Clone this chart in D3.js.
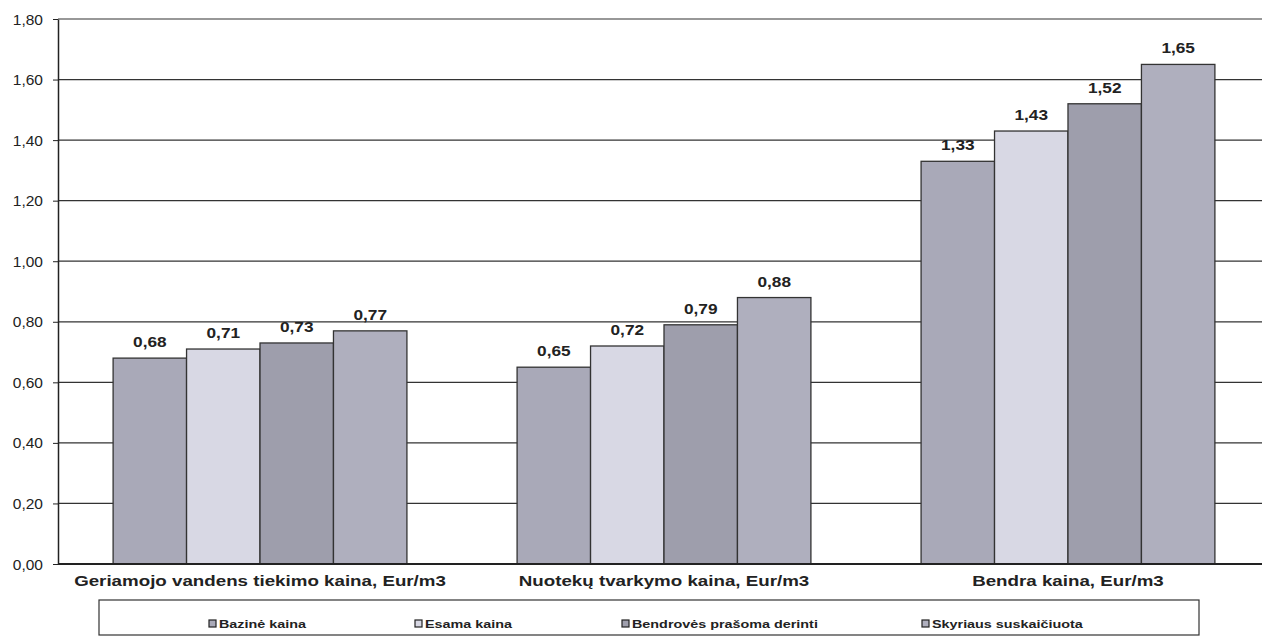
<!DOCTYPE html>
<html><head><meta charset="utf-8">
<script src="https://cdn.jsdelivr.net/npm/d3@7"></script>
<style>body{margin:0;background:#fff}svg{display:block}text{font-family:"Liberation Sans",Arial,sans-serif}</style>
</head><body>
<svg id="c" width="1263" height="637"></svg>
<script>
const categories = ["Geriamojo vandens tiekimo kaina, Eur/m3", "Nuotekų tvarkymo kaina, Eur/m3", "Bendra kaina, Eur/m3"];
const seriesNames = ["Bazinė kaina", "Esama kaina", "Bendrovės prašoma derinti", "Skyriaus suskaičiuota"];
const bazine = [0.68, 0.65, 1.33];
const esama = [0.71, 0.72, 1.43];
const prasoma = [0.73, 0.79, 1.52];
const skyriaus = [0.77, 0.88, 1.65];
const yTicks = [0, 0.2, 0.4, 0.6, 0.8, 1.0, 1.2, 1.4, 1.6, 1.8];
const colors = ["#a9a9b8", "#d8d8e4", "#9e9eac", "#afafbe"];

const series = [bazine, esama, prasoma, skyriaus];
const svg = d3.select("#c");
const mLeft = 58, mRight = 1270, mTop = 19, mBottom = 564;
const y = d3.scaleLinear().domain([0, 1.8]).range([mBottom, mTop]);
const x0 = d3.scaleBand().domain(categories).range([mLeft, mRight]).paddingInner(0.2727).paddingOuter(0.1364);
const x1 = d3.scaleBand().domain(d3.range(4)).range([0, x0.bandwidth()]);
const fmt = v => d3.format(".2f")(v).replace(".", ",");

// helper: horizontally stretched text (the scanned original has wide lettering)
function wideText(sel, x, yy, sx) {
  return sel.attr("x", 0).attr("y", 0).attr("transform", `translate(${x},${yy}) scale(${sx},1)`);
}

// gridlines
svg.append("g").selectAll("line").data(yTicks.slice(1)).join("line")
  .attr("x1", mLeft).attr("x2", 1262).attr("y1", d => y(d)).attr("y2", d => y(d))
  .attr("stroke", "#333").attr("stroke-width", 1.2);

// y axis
const ya = svg.append("g").attr("transform", `translate(${mLeft},0)`)
  .call(d3.axisLeft(y).tickValues(yTicks).tickFormat(fmt).tickSize(5).tickSizeOuter(0));
ya.select(".domain").attr("stroke", "#222").attr("stroke-width", 1.5);
ya.selectAll(".tick line").attr("stroke", "#222");
ya.selectAll(".tick text").each(function () {
  const t = d3.select(this);
  t.attr("font-size", 14.5).attr("fill", "#222").attr("dy", "0.35em")
    .attr("font-family", '"Liberation Sans",Arial,sans-serif')
    .attr("x", 0).attr("transform", "translate(-15,0) scale(1.07,1)");
});

// bars
const g = svg.append("g");
categories.forEach((c, ci) => {
  series.forEach((s, si) => {
    const bx = x0(c) + x1(si), bw = x1.bandwidth(), by = y(s[ci]);
    g.append("rect").attr("x", bx).attr("y", by).attr("width", bw).attr("height", mBottom - by)
      .attr("fill", colors[si]).attr("stroke", "#333").attr("stroke-width", 1.3);
    wideText(g.append("text"), bx + bw / 2, by - 11, 1.15).attr("text-anchor", "middle")
      .attr("font-size", 15).attr("font-weight", "bold").attr("fill", "#222").text(fmt(s[ci]));
  });
});

// x axis line
svg.append("line").attr("x1", mLeft).attr("x2", 1262).attr("y1", mBottom).attr("y2", mBottom)
  .attr("stroke", "#222").attr("stroke-width", 1.8);

// category labels
categories.forEach(c => {
  wideText(svg.append("text"), x0(c) + x0.bandwidth() / 2, 586, 1.25).attr("text-anchor", "middle")
    .attr("font-size", 15).attr("font-weight", "bold").attr("fill", "#222").text(c);
});

// legend
svg.append("rect").attr("x", 99).attr("y", 600).attr("width", 1100).attr("height", 35)
  .attr("fill", "#fff").attr("stroke", "#333").attr("stroke-width", 1.2);
const legX = [209, 415, 622, 922];
seriesNames.forEach((n, i) => {
  const lg = svg.append("g").attr("transform", `translate(${legX[i]},624)`);
  lg.append("rect").attr("x", 0).attr("y", -4).attr("width", 7).attr("height", 7)
    .attr("fill", colors[i]).attr("stroke", "#222").attr("stroke-width", 1.2);
  wideText(lg.append("text"), 10, 4, 1.25).attr("font-size", 11.5).attr("font-weight", "bold")
    .attr("fill", "#222").text(n);
});
</script>
</body></html>
